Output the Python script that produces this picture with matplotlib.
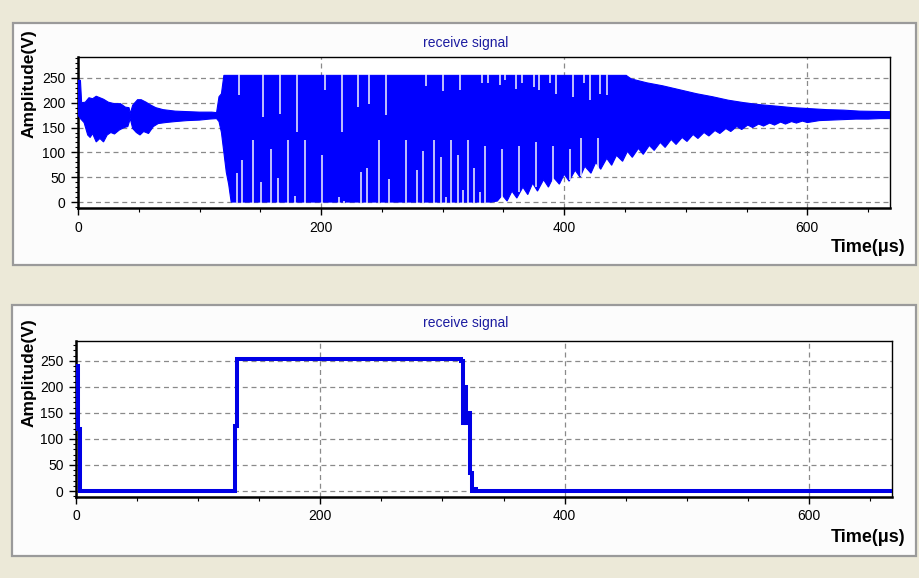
import numpy as np
import matplotlib
matplotlib.use('Agg')
import matplotlib.pyplot as plt
from matplotlib.patches import Rectangle
from matplotlib.ticker import MultipleLocator

# ---------------- data ----------------
# top panel: envelope of the receive signal (upper and lower edge), Time in us, Amplitude in V
hi_t = [0, 2, 3, 6, 9, 12, 15, 18, 21, 25, 30, 35, 39, 42, 43, 45, 49, 52, 56, 60, 64, 70, 80,
        90, 100, 110, 114, 116, 118, 120, 451, 455, 468, 481, 495, 509, 522, 535, 548, 561,
        575, 588, 602, 616, 630, 643, 668]
hi_v = [245, 245, 200, 201, 210, 208, 213, 210, 207, 201, 198, 198, 191, 190, 178, 195, 206,
        206, 201, 195, 190, 186, 183, 182, 181, 181, 180, 212, 218, 255, 255, 248, 240, 234,
        226, 218, 212, 205, 200, 196, 193, 190, 188, 186, 185, 183, 182]

lo_t = [0, 2, 5, 8, 10, 12, 15, 18, 21, 24, 27, 30, 34, 38, 41, 43, 45, 48, 51, 54, 58, 62,
        66, 72, 80, 90, 100, 108, 114, 116, 118, 120, 122, 124, 126, 340, 345, 349, 353, 357,
        361, 366, 370, 374, 378, 383, 387, 391, 396, 400, 404, 409, 413, 417, 422, 426, 430,
        435, 439, 443, 448, 452, 456, 461, 465, 470, 474, 479, 483, 488, 492, 497, 501, 506,
        510, 515, 519, 524, 528, 533, 537, 542, 546, 551, 555, 560, 564, 569, 573, 578, 582,
        587, 591, 596, 600, 610, 620, 630, 640, 650, 660, 668]
lo_v = [175, 168, 160, 135, 130, 138, 121, 128, 121, 135, 140, 137, 145, 150, 152, 168, 148,
        140, 135, 142, 138, 152, 158, 160, 162, 164, 165, 167, 168, 162, 140, 100, 60, 35, 0,
        0, 2, 14, 2, 22, 8, 30, 15, 38, 22, 45, 30, 50, 36, 56, 42, 64, 50, 72, 58, 80, 66, 88,
        74, 94, 82, 102, 90, 108, 96, 114, 104, 120, 110, 126, 116, 130, 122, 136, 128, 140,
        133, 144, 138, 148, 142, 152, 146, 155, 150, 157, 153, 159, 155, 161, 157, 162, 159,
        163, 160, 164, 165, 166, 167, 167, 168, 168]

# white sampling gaps in the saturated part: from the top down to a level
gap_top_t = [132.8, 152, 166.3, 180.5, 203.3, 217, 230.7, 239.8, 253.5, 286.4, 300.2, 314.4,
             332.3, 337.7, 346.8, 350.9, 360.5, 365.2, 374.8, 378.9, 388.5, 393.4, 407.2,
             415.9, 421.4, 429.1, 435.1]
gap_top_v = [215, 171, 178, 142, 225, 142, 192, 198, 176, 234, 223, 225, 240, 240, 235, 245,
             228, 240, 231, 225, 240, 218, 211, 240, 205, 218, 215]
# ... and from the lower edge up to a level
gap_bot_t = [130.6, 135.3, 144.3, 150.3, 158.6, 164.3, 172.6, 178.3, 186.8, 200.6, 214.8,
             218.9, 232.9, 237.6, 247.5, 255.7, 270, 278.8, 284.2, 293, 298.5, 302.6, 307,
             312.5, 317.1, 321.2, 325.9, 330.9, 335, 348.7, 363.2, 376.9, 390.6, 404.9,
             413.7, 427.4]
gap_bot_from = [-1.5] * 29 + [8, 20, 30, 40, 44, 52, 66]
gap_bot_v = [58, 85, 125, 41, 106, 48, 125, 12, 125, 94, 11, 2, 60, 68, 125, 46, 125, 64, 103,
             125, 91, 11, 125, 94, 24, 125, 69, 21, 113, 106, 113, 121, 113, 106, 128, 128]

# bottom panel: thresholded pulse (step values)
pulse_t = [0, 1.5, 3, 130, 132, 315, 317, 318, 319.5, 321, 322.5, 324.5, 326, 327.5, 668]
pulse_v = [240, 120, 0, 125, 254, 250, 130, 200, 130, 150, 35, 0, 4, 0, 0]

x_ticks = [0, 200, 400, 600]
y_ticks = [0, 50, 100, 150, 200, 250]
title_text = 'receive signal'
ylabel_text = 'Amplitude(V)'
xlabel_text = 'Time(μs)'

# ---------------- figure ----------------
plt.rcParams['font.family'] = ['Liberation Sans', 'DejaVu Sans']
W, H = 919, 578
fig = plt.figure(figsize=(W / 100, H / 100), dpi=100, facecolor='#ECE9D8')


def fx(px):
    return px / W


def fy(py):
    return 1 - py / H


for (x0, y0, x1, y1) in [(13, 23, 916, 265), (12, 305, 916, 556)]:
    r = Rectangle((fx(x0), fy(y1)), fx(x1) - fx(x0), fy(y0) - fy(y1),
                  transform=fig.transFigure, facecolor='#FCFCFC',
                  edgecolor='#9a9a9a', linewidth=1.6, zorder=-10)
    fig.add_artist(r)

ax1 = fig.add_axes([fx(78), fy(208), fx(890) - fx(78), fy(57) - fy(208)])
ax2 = fig.add_axes([fx(76), fy(497), fx(892) - fx(76), fy(341) - fy(497)])


def style(ax, ylim):
    ax.set_facecolor('white')
    ax.set_xlim(0, 668)
    ax.set_ylim(*ylim)
    ax.set_xticks(x_ticks)
    ax.set_yticks(y_ticks)
    ax.xaxis.set_minor_locator(MultipleLocator(50))
    ax.yaxis.set_minor_locator(MultipleLocator(10))
    ax.set_axisbelow(True)
    ax.grid(True, which='major', color='#8a8a8a', linestyle=(0, (4, 3)), linewidth=0.9)
    for s in ['left', 'bottom']:
        ax.spines[s].set_linewidth(1.8)
    for s in ['top', 'right']:
        ax.spines[s].set_linewidth(1.0)
    ax.tick_params(axis='both', which='major', direction='out', length=5, width=1,
                   labelsize=10, pad=4, colors='black')
    ax.tick_params(axis='both', which='minor', direction='out', length=3, width=0.8)
    ax.tick_params(axis='y', which='minor', length=2)


style(ax1, (-12, 292))
style(ax2, (-11.5, 288))

ax1.fill(np.concatenate([hi_t, lo_t[::-1]]), np.concatenate([hi_v, lo_v[::-1]]),
         facecolor='#0000FF', edgecolor='#0000FF', linewidth=0.8, zorder=3)
ax1.vlines(gap_top_t, gap_top_v, 257, colors='#f4f4fc', linewidth=1.1, zorder=4)
ax1.vlines(gap_bot_t, gap_bot_from, gap_bot_v, colors='#f4f4fc', linewidth=1.1, zorder=4)

ax2.plot(pulse_t, pulse_v, drawstyle='steps-post', color='#0000E6', linewidth=2.9,
         solid_joinstyle='miter', zorder=3)

for (ty, ly, xy) in [(43, 84, 247), (323, 373, 538)]:
    fig.text(fx(466), fy(ty), title_text, ha='center', va='center', color='#1c1ca0',
             fontsize=10)
    fig.text(fx(29), fy(ly), ylabel_text, rotation=90, ha='center', va='center',
             fontweight='bold', fontsize=12.5)
    fig.text(fx(905), fy(xy), xlabel_text, ha='right', va='center', fontweight='bold',
             fontsize=13)

fig.savefig('out.png', dpi=100, facecolor=fig.get_facecolor())
